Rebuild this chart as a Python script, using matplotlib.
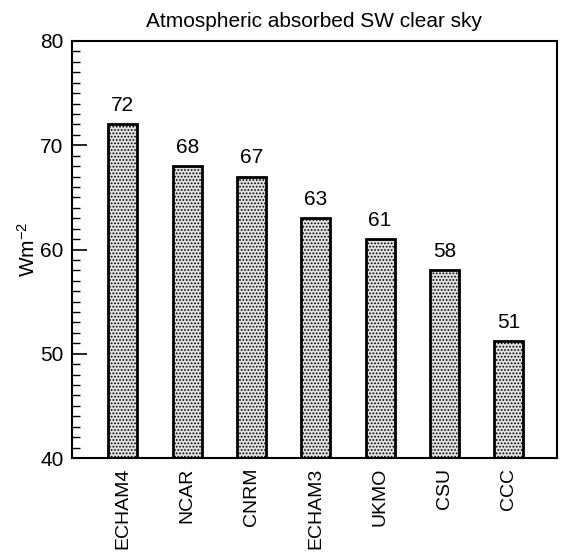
import matplotlib
matplotlib.use("Agg")
import matplotlib.pyplot as plt
from matplotlib.ticker import MultipleLocator

models = ["ECHAM4", "NCAR", "CNRM", "ECHAM3", "UKMO", "CSU", "CCC"]
values = [72, 68, 67, 63, 61, 58, 51.2]
value_labels = ["72", "68", "67", "63", "61", "58", "51"]
title = "Atmospheric absorbed SW clear sky"
ylabel = "Wm$^{-2}$"

plt.rcParams['font.family'] = ['Liberation Sans', 'DejaVu Sans']
plt.rcParams['mathtext.fontset'] = 'custom'
plt.rcParams['mathtext.rm'] = 'Liberation Sans'
plt.rcParams['mathtext.default'] = 'regular'
plt.rcParams['hatch.color'] = '#3a3a3a'
plt.rcParams['hatch.linewidth'] = 0.8

fig = plt.figure(figsize=(5.61, 5.56), dpi=100)
ax = fig.add_axes([72/561, 1 - 458/556, (557-72)/561, (458-41)/556])

x = list(range(len(models)))
bars = ax.bar(x, values, width=0.45, bottom=0, facecolor='#e0e0e0',
              edgecolor='black', linewidth=2.0, hatch='.....', zorder=2)
for xi, v, lab in zip(x, values, value_labels):
    ax.text(xi, v + 0.9, lab, ha='center', va='bottom', fontsize=15)

ax.set_ylim(40, 80)
ax.set_xlim(-0.79, 6.75)
ax.yaxis.set_major_locator(MultipleLocator(10))
ax.yaxis.set_minor_locator(MultipleLocator(1))
ax.tick_params(axis='y', which='major', direction='in', length=11, width=1.2, labelsize=15, pad=6)
ax.tick_params(axis='y', which='minor', direction='in', length=6, width=1.0)
ax.set_xticks(x)
ax.set_xticklabels(models, rotation=90, fontsize=14)
ax.tick_params(axis='x', length=0, pad=7)
for s in ax.spines.values():
    s.set_linewidth(1.5)
ax.set_ylabel(ylabel, fontsize=15, labelpad=1)
ax.set_title(title, fontsize=15, pad=10)

fig.savefig("out.png", dpi=100)
